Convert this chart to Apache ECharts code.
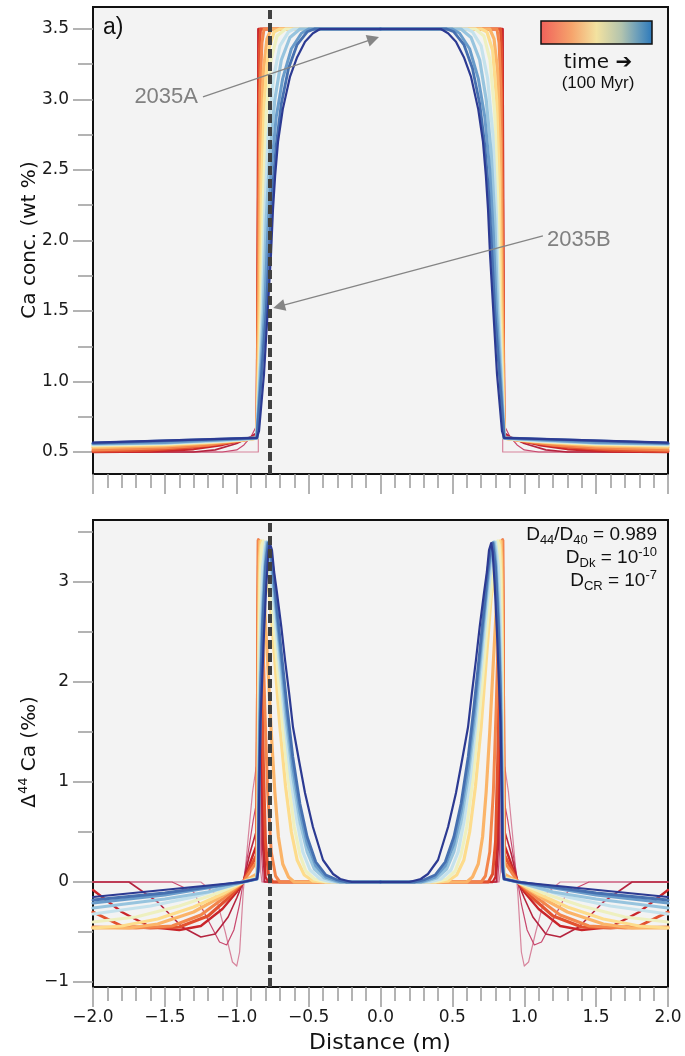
<!DOCTYPE html>
<html><head><meta charset="utf-8">
<script src="https://cdn.jsdelivr.net/npm/echarts@6/dist/echarts.min.js"></script>
<style>html,body{margin:0;padding:0;background:#fff}#c{width:685px;height:1056px}</style>
</head><body><div id="c"></div>
<script>
// ---------- DATA (left half of each symmetric profile, x from -2 to 0; the right half is drawn on a mirrored axis) ----------
// Panel a: Ca concentration (wt %), curves ordered in time (early -> late)
const ca_t00 = [[-2,0.5],[-0.85,0.5],[-0.85,3.5],[0,3.5]];
const ca_t01 = [[-2,0.5],[-1.1,0.5],[-1.0,0.515],[-0.95,0.55],[-0.9,0.61],[-0.87,0.67],[-0.855,0.695],[-0.85,3.5],[0,3.5]];
const ca_t02 = [[-2,0.5],[-1.3,0.5],[-1.15,0.515],[-1.0,0.56],[-0.9,0.61],[-0.855,0.64],[-0.85,3.5],[0,3.5]];
const ca_t03 = [[-2,0.5],[-1.6,0.503],[-1.3,0.52],[-1.1,0.55],[-0.95,0.585],[-0.86,0.615],[-0.849,3.5],[0,3.5]];
const ca_t04 = [[-2,0.505],[-1.6,0.515],[-1.3,0.535],[-1.1,0.56],[-0.95,0.585],[-0.86,0.605],[-0.85,0.61],[-0.847,2.6],[-0.842,3.35],[-0.835,3.5],[0,3.5]];
const ca_t05 = [[-2,0.515],[-1.5,0.53],[-1.2,0.55],[-0.95,0.585],[-0.86,0.6],[-0.85,0.605],[-0.845,2.2],[-0.838,3.05],[-0.825,3.4],[-0.81,3.5],[0,3.5]];
const ca_t06 = [[-2,0.53],[-1.5,0.543],[-1.2,0.562],[-0.95,0.585],[-0.86,0.598],[-0.85,0.6],[-0.842,1.8],[-0.832,2.7],[-0.815,3.2],[-0.79,3.43],[-0.76,3.5],[0,3.5]];
const ca_t07 = [[-2,0.542],[-1.5,0.553],[-1.2,0.568],[-0.95,0.586],[-0.86,0.598],[-0.85,0.6],[-0.836,1.6],[-0.825,2.45],[-0.808,3.0],[-0.78,3.35],[-0.74,3.48],[-0.7,3.5],[0,3.5]];
const ca_t08 = [[-2,0.548],[-1.5,0.558],[-1.1,0.575],[-0.86,0.598],[-0.85,0.6],[-0.83,1.5],[-0.815,2.3],[-0.795,2.9],[-0.762,3.28],[-0.72,3.45],[-0.66,3.5],[0,3.5]];
const ca_t09 = [[-2,0.553],[-1.5,0.562],[-1.1,0.578],[-0.86,0.598],[-0.85,0.6],[-0.823,1.5],[-0.805,2.2],[-0.782,2.75],[-0.745,3.15],[-0.7,3.38],[-0.64,3.48],[-0.6,3.5],[0,3.5]];
const ca_t10 = [[-2,0.557],[-1.5,0.565],[-0.86,0.598],[-0.85,0.6],[-0.815,1.5],[-0.795,2.15],[-0.77,2.62],[-0.735,3.0],[-0.69,3.28],[-0.63,3.44],[-0.56,3.5],[0,3.5]];
const ca_t11 = [[-2,0.56],[-1.5,0.567],[-0.86,0.6],[-0.85,0.6],[-0.806,1.5],[-0.785,2.05],[-0.76,2.5],[-0.725,2.88],[-0.68,3.15],[-0.62,3.36],[-0.55,3.47],[-0.5,3.5],[0,3.5]];
const ca_t12 = [[-2,0.563],[-0.86,0.6],[-0.85,0.6],[-0.795,1.5],[-0.772,1.98],[-0.752,2.35],[-0.725,2.68],[-0.69,2.97],[-0.64,3.22],[-0.58,3.39],[-0.51,3.48],[-0.46,3.5],[0,3.5]];
const ca_t13 = [[-2,0.566],[-0.86,0.6],[-0.845,0.65],[-0.81,1.06],[-0.783,1.53],[-0.762,1.9],[-0.748,2.22],[-0.733,2.46],[-0.713,2.7],[-0.68,2.93],[-0.63,3.16],[-0.58,3.3],[-0.525,3.41],[-0.47,3.47],[-0.42,3.5],[0,3.5]];

// Panel b: Delta44Ca (permil), curves ordered in time (early -> late)
const d44_t00 = [[-2,0],[-1.25,0],[-1.15,-0.12],[-1.08,-0.5],[-1.03,-0.8],[-1.0,-0.84],[-0.98,-0.7],[-0.955,-0.1],[-0.92,0.45],[-0.89,0.9],[-0.865,1.15],[-0.855,1.1],[-0.85,3.42],[-0.847,3.42],[-0.84,1.0],[-0.833,0.1],[-0.825,0],[0,0]];
const d44_t01 = [[-2,0],[-1.45,0],[-1.3,-0.1],[-1.2,-0.38],[-1.12,-0.6],[-1.07,-0.63],[-1.02,-0.48],[-0.98,-0.22],[-0.955,0],[-0.92,0.3],[-0.885,0.62],[-0.862,0.8],[-0.853,0.82],[-0.85,3.42],[-0.846,3.42],[-0.838,1.6],[-0.828,0.3],[-0.815,0],[0,0]];
const d44_t02 = [[-2,0],[-1.75,0],[-1.55,-0.2],[-1.38,-0.45],[-1.25,-0.55],[-1.15,-0.52],[-1.06,-0.35],[-1.0,-0.16],[-0.955,0],[-0.91,0.28],[-0.862,0.52],[-0.85,3.42],[-0.845,3.42],[-0.835,1.8],[-0.822,0.4],[-0.805,0],[0,0]];
const d44_t03 = [[-2,-0.08],[-1.8,-0.3],[-1.6,-0.45],[-1.4,-0.48],[-1.25,-0.44],[-1.1,-0.27],[-1.0,-0.1],[-0.955,0],[-0.9,0.22],[-0.862,0.37],[-0.85,3.42],[-0.844,3.42],[-0.832,2.1],[-0.818,0.6],[-0.8,0.05],[-0.78,0],[0,0]];
const d44_t04 = [[-2,-0.3],[-1.8,-0.44],[-1.6,-0.46],[-1.4,-0.45],[-1.2,-0.34],[-1.05,-0.15],[-0.955,0],[-0.9,0.16],[-0.862,0.27],[-0.85,3.42],[-0.842,3.42],[-0.83,2.5],[-0.815,1.2],[-0.8,0.4],[-0.78,0.08],[-0.75,0],[0,0]];
const d44_t05 = [[-2,-0.45],[-1.7,-0.46],[-1.45,-0.44],[-1.25,-0.33],[-1.08,-0.15],[-0.955,0],[-0.9,0.12],[-0.862,0.2],[-0.85,3.42],[-0.84,3.4],[-0.825,2.8],[-0.805,1.75],[-0.785,0.9],[-0.76,0.3],[-0.73,0.06],[-0.7,0],[0,0]];
const d44_t06 = [[-2,-0.46],[-1.75,-0.46],[-1.55,-0.42],[-1.3,-0.3],[-1.1,-0.14],[-0.955,0],[-0.86,0.08],[-0.852,0.5],[-0.846,3.0],[-0.84,3.41],[-0.832,3.3],[-0.81,2.85],[-0.785,2.2],[-0.76,1.5],[-0.735,0.9],[-0.71,0.45],[-0.68,0.18],[-0.64,0.05],[-0.6,0],[0,0]];
const d44_t07 = [[-2,-0.46],[-1.8,-0.44],[-1.55,-0.37],[-1.3,-0.25],[-1.1,-0.12],[-0.955,0],[-0.86,0.05],[-0.852,0.5],[-0.845,2.6],[-0.838,3.25],[-0.83,3.41],[-0.82,3.35],[-0.8,3.1],[-0.77,2.85],[-0.735,2.2],[-0.7,1.55],[-0.66,0.95],[-0.62,0.5],[-0.58,0.22],[-0.53,0.07],[-0.47,0.01],[-0.4,0],[0,0]];
const d44_t08 = [[-2,-0.4],[-1.7,-0.35],[-1.4,-0.24],[-1.15,-0.12],[-0.955,0],[-0.86,0.04],[-0.852,0.4],[-0.845,2.3],[-0.835,3.1],[-0.825,3.37],[-0.815,3.41],[-0.8,3.3],[-0.78,3.05],[-0.75,2.7],[-0.72,2.2],[-0.68,1.55],[-0.64,1.0],[-0.6,0.55],[-0.56,0.27],[-0.52,0.11],[-0.46,0.03],[-0.38,0],[0,0]];
const d44_t09 = [[-2,-0.32],[-1.6,-0.24],[-1.3,-0.15],[-0.955,0],[-0.86,0.035],[-0.851,0.3],[-0.845,1.6],[-0.835,2.5],[-0.82,3.15],[-0.8,3.4],[-0.785,3.33],[-0.765,3.1],[-0.74,2.75],[-0.705,2.2],[-0.665,1.6],[-0.625,1.05],[-0.58,0.6],[-0.54,0.3],[-0.49,0.12],[-0.42,0.03],[-0.34,0],[0,0]];
const d44_t10 = [[-2,-0.26],[-1.5,-0.17],[-1.2,-0.1],[-0.955,0],[-0.86,0.03],[-0.85,0.2],[-0.845,1.2],[-0.835,2.1],[-0.82,2.8],[-0.8,3.3],[-0.79,3.4],[-0.775,3.33],[-0.755,3.1],[-0.73,2.75],[-0.695,2.2],[-0.655,1.6],[-0.61,1.05],[-0.56,0.6],[-0.51,0.3],[-0.46,0.13],[-0.39,0.04],[-0.3,0],[0,0]];
const d44_t11 = [[-2,-0.21],[-1.5,-0.13],[-0.955,0],[-0.86,0.03],[-0.85,0.17],[-0.845,1.0],[-0.835,1.9],[-0.82,2.65],[-0.8,3.2],[-0.785,3.39],[-0.77,3.33],[-0.75,3.1],[-0.728,2.78],[-0.692,2.25],[-0.652,1.68],[-0.61,1.15],[-0.56,0.7],[-0.51,0.38],[-0.45,0.16],[-0.38,0.05],[-0.28,0],[0,0]];
const d44_t12 = [[-2,-0.18],[-1.5,-0.11],[-0.955,0],[-0.86,0.03],[-0.85,0.15],[-0.845,0.9],[-0.835,1.8],[-0.82,2.55],[-0.8,3.15],[-0.78,3.39],[-0.765,3.33],[-0.745,3.1],[-0.725,2.8],[-0.69,2.3],[-0.65,1.75],[-0.61,1.25],[-0.56,0.78],[-0.51,0.45],[-0.45,0.2],[-0.38,0.07],[-0.3,0.02],[-0.24,0],[0,0]];
const d44_t13 = [[-2,-0.15],[-0.955,0],[-0.86,0.03],[-0.85,0.1],[-0.845,0.8],[-0.835,1.6],[-0.825,1.95],[-0.81,2.5],[-0.795,2.95],[-0.78,3.3],[-0.77,3.39],[-0.755,3.32],[-0.74,3.1],[-0.72,2.89],[-0.69,2.55],[-0.664,2.22],[-0.635,1.88],[-0.609,1.55],[-0.565,1.2],[-0.525,0.89],[-0.47,0.55],[-0.4,0.22],[-0.33,0.08],[-0.28,0.03],[-0.2,0],[0,0]];

// Tick values
const caTicks = [0.5, 1.0, 1.5, 2.0, 2.5, 3.0, 3.5];
const caMinorTicks = [0.75, 1.25, 1.75, 2.25, 2.75, 3.25];
const d44Ticks = [-1, 0, 1, 2, 3];
const d44MinorTicks = [-0.5, 0.5, 1.5, 2.5, 3.5];
// Sample boundary position (dashed line)
const dashedX = -0.765;

const caCurves = [ca_t00,ca_t01,ca_t02,ca_t03,ca_t04,ca_t05,ca_t06,ca_t07,ca_t08,ca_t09,ca_t10,ca_t11,ca_t12,ca_t13];
const d44Curves = [d44_t00,d44_t01,d44_t02,d44_t03,d44_t04,d44_t05,d44_t06,d44_t07,d44_t08,d44_t09,d44_t10,d44_t11,d44_t12,d44_t13];

// ---------- STYLE ----------
const lineColors = ['#d7849c','#c8486e','#b5243f','#c9252a','#e2512f','#f3864c','#fbb468','#fddc8c','#eef0c0','#c5e2ec','#97c4de','#6a9cca','#4670b0','#2c3a92'];
const lineWidths = [1.2,1.2,1.6,2.4,3,3,3.2,3.2,3.2,3.2,3.2,3,2.8,2.2];
const tickStyle = {color:'#9a9a9a', width:1.5};
const labelFont = {fontFamily:'DejaVu Sans', fontSize:17, color:'#1a1a1a'};
const minus = s => String(s).replace('-', '\u2212');

const chart = echarts.init(document.getElementById('c'), null, {renderer:'canvas'});

function xAxes(gridIndex, showLabels){
  return [
    {type:'value', gridIndex, min:-2, max:2, interval:0.5, position:'bottom',
     axisLine:{show:false, onZero:false}, splitLine:{show:false},
     axisTick:{show:true, length:20, lineStyle:tickStyle},
     minorTick:{show:true, splitNumber:5, length:14, lineStyle:tickStyle},
     axisLabel:Object.assign({show:showLabels, margin:22, formatter:v=>minus(v.toFixed(1))}, labelFont)},
    {type:'value', gridIndex, min:-2, max:2, inverse:true, show:false, position:'top',
     axisLine:{show:false, onZero:false}, axisTick:{show:false}, axisLabel:{show:false}, splitLine:{show:false}}
  ];
}
function yAxes(gridIndex, min, max, ticks, minor, fmt){
  return [
    {type:'value', gridIndex, min, max, position:'left',
     axisLine:{show:false, onZero:false}, splitLine:{show:false},
     axisTick:{show:true, length:20, lineStyle:tickStyle, customValues:ticks},
     axisLabel:Object.assign({show:true, margin:24, customValues:ticks, formatter:fmt}, labelFont)},
    {type:'value', gridIndex, min, max, position:'left',
     axisLine:{show:false, onZero:false}, splitLine:{show:false},
     axisTick:{show:true, length:15, lineStyle:tickStyle, customValues:minor},
     axisLabel:{show:false}}
  ];
}

const series = [];
function addCurves(curves, xIdx, yIdx){
  curves.forEach((d, i) => {
    [xIdx, xIdx + 1].forEach(xi => {
      series.push({type:'line', xAxisIndex:xi, yAxisIndex:yIdx, data:d, symbol:'none', showSymbol:false,
        silent:true, animation:false, z:2,
        lineStyle:{color:lineColors[i], width:lineWidths[i], join:'round', cap:'round'}});
    });
  });
}
addCurves(caCurves, 0, 0);
addCurves(d44Curves, 2, 2);

const dashStyle = {type:[9,4], color:'#404040', width:4};
series.push({type:'line', xAxisIndex:0, yAxisIndex:0, data:[], z:5, silent:true,
  markLine:{silent:true, animation:false, symbol:'none', label:{show:false}, lineStyle:dashStyle, data:[{xAxis:dashedX}]}});
series.push({type:'line', xAxisIndex:2, yAxisIndex:2, data:[], z:5, silent:true,
  markLine:{silent:true, animation:false, symbol:'none', label:{show:false}, lineStyle:dashStyle, data:[{xAxis:dashedX}]}});
// annotation arrows (2035A, 2035B)
series.push({type:'line', xAxisIndex:0, yAxisIndex:0, data:[], z:6, silent:true,
  markLine:{silent:true, animation:false, symbol:['none','triangle'], symbolSize:12, label:{show:false},
    lineStyle:{type:'solid', color:'#858585', width:1.3},
    data:[[{coord:[-1.235,3.018]},{coord:[-0.05,3.43]}], [{coord:[1.13,2.032]},{coord:[-0.706,1.532]}]]}});

const richD = {
  b:{fontFamily:'Liberation Sans', fontSize:19, lineHeight:24, fill:'#111', color:'#111'},
  s:{fontFamily:'Liberation Sans', fontSize:13, lineHeight:13, verticalAlign:'bottom', fill:'#111', color:'#111'},
  p:{fontFamily:'Liberation Sans', fontSize:13, lineHeight:13, verticalAlign:'top', fill:'#111', color:'#111'}
};
function txt(x, y, text, font, align, fill, extra){
  return Object.assign({type:'text', x, y, silent:true, z:100,
    style:{text, font, fill:fill||'#111', align:align||'center', textAlign:align||'center', verticalAlign:'middle', textVerticalAlign:'middle'}}, extra||{});
}

const option = {
  animation:false,
  backgroundColor:'#ffffff',
  grid:[
    {left:93, top:7, width:575, height:467, show:true, backgroundColor:'#f3f3f3', borderColor:'#111', borderWidth:2, containLabel:false},
    {left:93, top:520, width:575, height:467, show:true, backgroundColor:'#f3f3f3', borderColor:'#111', borderWidth:2, containLabel:false}
  ],
  xAxis:[...xAxes(0,false), ...xAxes(1,true)],
  yAxis:[...yAxes(0, 0.344, 3.656, caTicks, caMinorTicks, v=>v.toFixed(1)),
         ...yAxes(1, -1.05, 3.62, d44Ticks, d44MinorTicks, v=>minus(v))],
  series,
  graphic:[
    txt(103, 28, 'a)', '23px "Liberation Sans"', 'left'),
    {type:'rect', silent:true, z:100, shape:{x:541, y:21, width:111, height:23},
     style:{fill:new echarts.graphic.LinearGradient(0,0,1,0,[
        {offset:0,color:'#f0605a'},{offset:0.28,color:'#f6a46c'},{offset:0.5,color:'#f3e2a0'},
        {offset:0.72,color:'#b3c4ae'},{offset:0.86,color:'#6d9fba'},{offset:1,color:'#2a78bb'}]),
        stroke:'#111', lineWidth:1.5}},
    txt(598, 63, 'time \u2794', '20px "DejaVu Sans"'),
    txt(598, 83, '(100 Myr)', '17px "Liberation Sans"'),
    txt(198, 97, '2035A', '22px "Liberation Sans"', 'right', '#808080'),
    txt(547, 240, '2035B', '22px "Liberation Sans"', 'left', '#808080'),
    {type:'text', x:657, y:535, silent:true, z:100, style:{text:'{b|D}{s|44}{b|/D}{s|40}{b| = 0.989}', rich:richD, align:'right', textAlign:'right', verticalAlign:'middle', textVerticalAlign:'middle'}},
    {type:'text', x:657, y:558, silent:true, z:100, style:{text:'{b|D}{s|Dk}{b| = 10}{p|-10}', rich:richD, align:'right', textAlign:'right', verticalAlign:'middle', textVerticalAlign:'middle'}},
    {type:'text', x:657, y:581, silent:true, z:100, style:{text:'{b|D}{s|CR}{b| = 10}{p|-7}', rich:richD, align:'right', textAlign:'right', verticalAlign:'middle', textVerticalAlign:'middle'}},
    txt(30, 240, 'Ca conc. (wt %)', '20px "DejaVu Sans"', 'center', '#111', {rotation:Math.PI/2}),
    {type:'text', x:30, y:752, rotation:Math.PI/2, silent:true, z:100,
     style:{text:'{b|\u0394}{p|44}{b| Ca (\u2030)}', align:'center', textAlign:'center', verticalAlign:'middle', textVerticalAlign:'middle',
       rich:{b:{fontFamily:'DejaVu Sans', fontSize:20, lineHeight:26, fill:'#111', color:'#111'},
             p:{fontFamily:'DejaVu Sans', fontSize:13, lineHeight:14, verticalAlign:'top', fill:'#111', color:'#111'}}}},
    txt(380, 1043, 'Distance (m)', '22px "DejaVu Sans"')
  ]
};
chart.setOption(option);
</script>
</body></html>
